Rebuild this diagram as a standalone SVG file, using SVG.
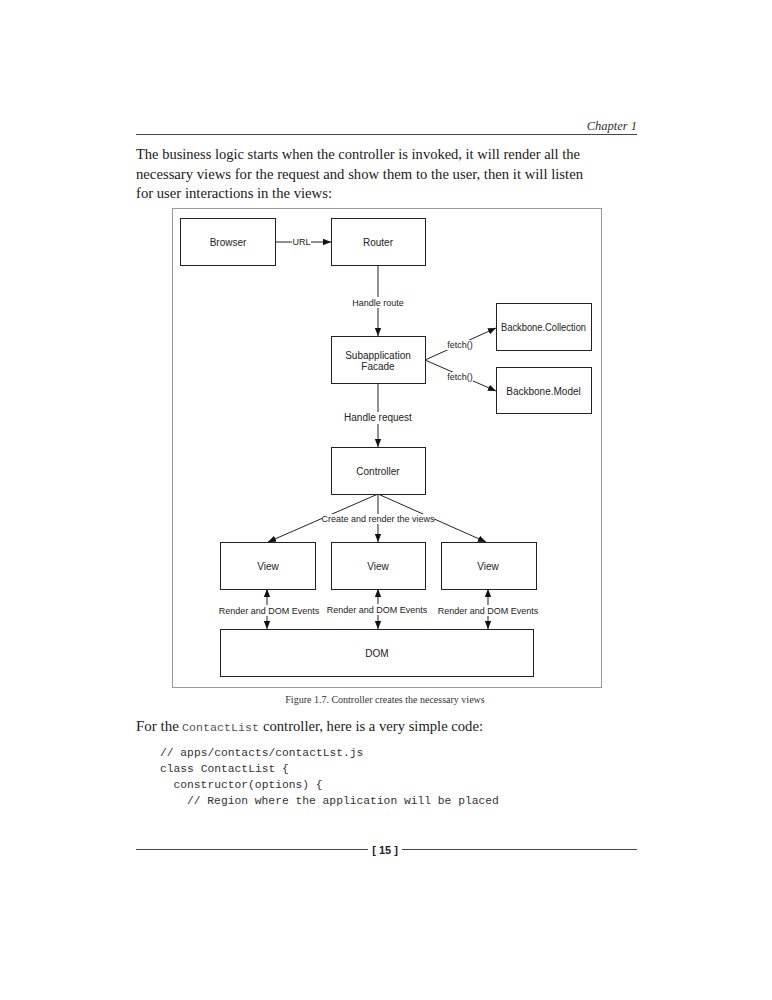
<svg xmlns="http://www.w3.org/2000/svg" width="772" height="1000" viewBox="0 0 772 1000">
<style>
.page{font-family:"Liberation Serif",serif;font-size:15px;fill:#1a1a1a}
.mono{font-family:"Liberation Mono",monospace;font-size:11.3px;fill:#333}
.box{fill:#fff;stroke:#222;stroke-width:1}
.t{font-family:"Liberation Sans",Arial,sans-serif;font-size:10px;fill:#222;text-anchor:middle}
.lbl{font-family:"Liberation Sans",Arial,sans-serif;font-size:9px;fill:#222;text-anchor:middle}
.edge{stroke:#222;stroke-width:1;fill:none}
.rule{stroke:#444;stroke-width:1}
</style>
<defs>
<marker id="ah" viewBox="0 0 10 10" refX="10" refY="5" markerWidth="8" markerHeight="8" markerUnits="userSpaceOnUse" orient="auto-start-reverse">
<path d="M0,1 L10,5 L0,9 Z" fill="#111"/>
</marker>
</defs>
<rect width="772" height="1000" fill="#fff"/>

<g id="header">
<text x="637" y="130" text-anchor="end" style="font-family:'Liberation Serif',serif;font-style:italic;font-size:12.5px;fill:#333">Chapter 1</text>
<line class="rule" x1="136" y1="134.5" x2="637" y2="134.5" stroke="#777"/>
</g>

<g id="intro">
<text class="page" x="136" y="159" textLength="444" lengthAdjust="spacingAndGlyphs">The business logic starts when the controller is invoked, it will render all the</text>
<text class="page" x="136" y="179" textLength="447" lengthAdjust="spacingAndGlyphs">necessary views for the request and show them to the user, then it will listen</text>
<text class="page" x="136" y="198" textLength="196" lengthAdjust="spacingAndGlyphs">for user interactions in the views:</text>
</g>

<rect id="frame" x="172.5" y="208.5" width="429" height="479" fill="none" stroke="#999" stroke-width="1"/>

<g id="connectors">
<line class="edge" x1="275" y1="242" x2="331" y2="242" marker-end="url(#ah)"/>
<rect x="292" y="237" width="19" height="10" fill="#fff"/>
<text class="lbl" x="301.5" y="245">URL</text>

<line class="edge" x1="378" y1="265" x2="378" y2="336" marker-end="url(#ah)"/>
<rect x="350" y="297" width="56" height="11" fill="#fff"/>
<text class="lbl" x="378" y="305.5">Handle route</text>

<line class="edge" x1="425" y1="360" x2="496" y2="328" marker-end="url(#ah)"/>
<line class="edge" x1="425" y1="360" x2="496" y2="391" marker-end="url(#ah)"/>
<rect x="447" y="340" width="26" height="10" fill="#fff"/>
<text class="lbl" x="460" y="348">fetch()</text>
<rect x="447" y="372" width="26" height="10" fill="#fff"/>
<text class="lbl" x="460" y="380">fetch()</text>

<line class="edge" x1="378" y1="383" x2="378" y2="447" marker-end="url(#ah)"/>
<rect x="343" y="412" width="70" height="12" fill="#fff"/>
<text class="t" x="378" y="421">Handle request</text>

<line class="edge" x1="378" y1="494" x2="268" y2="542" marker-end="url(#ah)"/>
<line class="edge" x1="378" y1="494" x2="378" y2="542" marker-end="url(#ah)"/>
<line class="edge" x1="378" y1="494" x2="486" y2="542" marker-end="url(#ah)"/>
<rect x="322" y="514" width="112" height="10" fill="#fff"/>
<text class="lbl" x="378" y="522">Create and render the views</text>

<line class="edge" x1="267" y1="589" x2="267" y2="629" marker-start="url(#ah)" marker-end="url(#ah)"/>
<line class="edge" x1="378" y1="589" x2="378" y2="629" marker-start="url(#ah)" marker-end="url(#ah)"/>
<line class="edge" x1="488" y1="589" x2="488" y2="629" marker-start="url(#ah)" marker-end="url(#ah)"/>
<rect x="216" y="605" width="106" height="11" fill="#fff"/>
<text class="lbl" x="269" y="613.5">Render and DOM Events</text>
<rect x="328" y="604" width="100" height="11" fill="#fff"/>
<text class="lbl" x="377" y="612.5">Render and DOM Events</text>
<rect x="438" y="605" width="100" height="11" fill="#fff"/>
<text class="lbl" x="488" y="613.5">Render and DOM Events</text>
</g>

<g id="browser"><rect class="box" x="180.5" y="218.5" width="95" height="47"/><text class="t" x="228" y="245.5">Browser</text></g>
<g id="router"><rect class="box" x="331.5" y="218.5" width="94" height="47"/><text class="t" x="378" y="245.5">Router</text></g>
<g id="subapp"><rect class="box" x="331.5" y="336.5" width="94" height="47"/><text class="t" x="378" y="358.5">Subapplication</text><text class="t" x="378" y="370">Facade</text></g>
<g id="collection"><rect class="box" x="496.5" y="303.5" width="95" height="47"/><text class="t" x="543.5" y="331" textLength="85" lengthAdjust="spacingAndGlyphs">Backbone.Collection</text></g>
<g id="model"><rect class="box" x="496.5" y="367.5" width="95" height="46"/><text class="t" x="543.5" y="394.5">Backbone.Model</text></g>
<g id="controller"><rect class="box" x="331.5" y="447.5" width="94" height="47"/><text class="t" x="378" y="474.5">Controller</text></g>
<g id="view1"><rect class="box" x="220.5" y="542.5" width="95" height="47"/><text class="t" x="268" y="569.5">View</text></g>
<g id="view2"><rect class="box" x="331.5" y="542.5" width="94" height="47"/><text class="t" x="378" y="569.5">View</text></g>
<g id="view3"><rect class="box" x="441.5" y="542.5" width="95" height="47"/><text class="t" x="488" y="569.5">View</text></g>
<g id="dom"><rect class="box" x="220.5" y="629.5" width="313" height="47"/><text class="t" x="377" y="656.5">DOM</text></g>

<g id="caption">
<text x="385" y="703" text-anchor="middle" style="font-family:'Liberation Serif',serif;font-size:10px;fill:#333">Figure 1.7. Controller creates the necessary views</text>
</g>

<g id="body2">
<text class="page" x="136" y="731">For the</text>
<text class="mono" x="182" y="731" style="font-size:11.5px;fill:#555" textLength="77" lengthAdjust="spacingAndGlyphs">ContactList</text>
<text class="page" x="263" y="731" textLength="220" lengthAdjust="spacingAndGlyphs">controller, here is a very simple code:</text>
<text class="mono" x="160" y="756">// apps/contacts/contactLst.js</text>
<text class="mono" x="160" y="772">class ContactList {</text>
<text class="mono" x="173.5" y="788">constructor(options) {</text>
<text class="mono" x="187" y="804">// Region where the application will be placed</text>
</g>

<g id="footer">
<line class="rule" x1="136" y1="849.5" x2="368" y2="849.5" stroke="#222"/>
<text x="385" y="853.5" text-anchor="middle" style="font-family:'Liberation Sans',Arial,sans-serif;font-weight:bold;font-size:11px;fill:#222">[ 15 ]</text>
<line class="rule" x1="402" y1="849.5" x2="637" y2="849.5" stroke="#222"/>
</g>
</svg>
